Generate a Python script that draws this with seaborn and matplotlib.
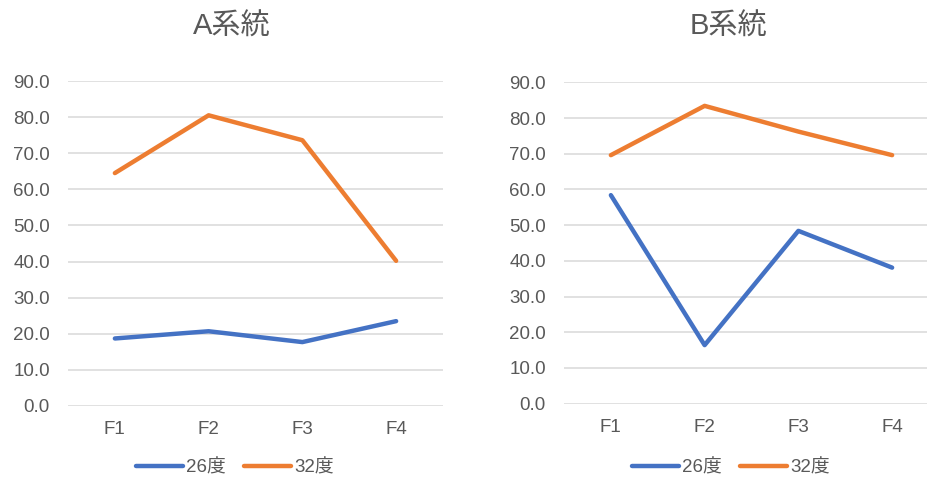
import matplotlib
matplotlib.use("Agg")
import matplotlib.pyplot as plt
import seaborn as sns
import pandas as pd

# Data
categories = ["F1", "F2", "F3", "F4"]
series_names = ["26度", "32度"]
a_26 = [18.7, 20.7, 17.7, 23.5]
a_32 = [64.5, 80.5, 73.6, 40.2]
b_26 = [58.4, 16.4, 48.4, 38.1]
b_32 = [69.6, 83.4, 76.2, 69.6]
y_ticks = [0, 10, 20, 30, 40, 50, 60, 70, 80, 90]
titles = ["A系統", "B系統"]

sns.set_theme(style="white")
plt.rcParams["font.family"] = ["Liberation Sans", "Noto Sans CJK JP", "DejaVu Sans"]

palette = {"26度": "#4472C4", "32度": "#ED7D31"}
text_color = "#595959"
W, H = 928, 479
fig = plt.figure(figsize=(W / 100, H / 100), dpi=100)


def make_frame(v26, v32):
    rows = []
    for name, vals in zip(series_names, [v26, v32]):
        for i, (c, v) in enumerate(zip(categories, vals)):
            rows.append({"pos": i, "cat": c, "series": name, "value": v})
    return pd.DataFrame(rows)


panels = [
    (make_frame(a_26, a_32), (68, 81, 443, 406), 232, 235),
    (make_frame(b_26, b_32), (564, 82.3, 939, 403.7), 728, 731),
]

for (df, (x0, ytop, x1, ybot), title_x, legend_x), title in zip(panels, titles):
    ax = fig.add_axes([x0 / W, (H - ybot) / H, (x1 - x0) / W, (ybot - ytop) / H])
    sns.lineplot(data=df, x="pos", y="value", hue="series", palette=palette,
                 linewidth=3.2, ax=ax, legend=True)
    for line in ax.lines:
        line.set_solid_capstyle("round")
        line.set_solid_joinstyle("round")
    ax.set_xlim(-0.5, 3.5)
    ax.set_ylim(0, 90)
    ax.set_xticks(range(len(categories)))
    ax.set_xticklabels(categories)
    ax.set_yticks(y_ticks)
    ax.set_yticklabels([f"{t:.1f}" for t in y_ticks])
    ax.yaxis.grid(True, color="#D9D9D9", linewidth=1.1)
    ax.xaxis.grid(False)
    ax.set_axisbelow(True)
    for s in ax.spines.values():
        s.set_visible(False)
    ax.tick_params(axis="y", length=0, pad=13, labelsize=13.5, labelcolor=text_color)
    ax.tick_params(axis="x", length=0, pad=11, labelsize=13.5, labelcolor=text_color)
    ax.set_xlabel("")
    ax.set_ylabel("")
    for t in ax.get_yticklabels() + ax.get_xticklabels():
        t.set_clip_on(False)

    handles, labels = ax.get_legend_handles_labels()
    ax.legend(handles, labels, loc="center", bbox_to_anchor=(legend_x / W, (H - 468) / H),
              bbox_transform=fig.transFigure, ncol=2, frameon=False,
              fontsize=13.5, labelcolor=text_color, handlelength=2.5,
              handletextpad=0.15, columnspacing=1.0)

    fig.text(title_x / W, (H - 27) / H, title, ha="center", va="center",
             fontsize=21, color=text_color)

fig.savefig("out.png", dpi=100, facecolor="white")
